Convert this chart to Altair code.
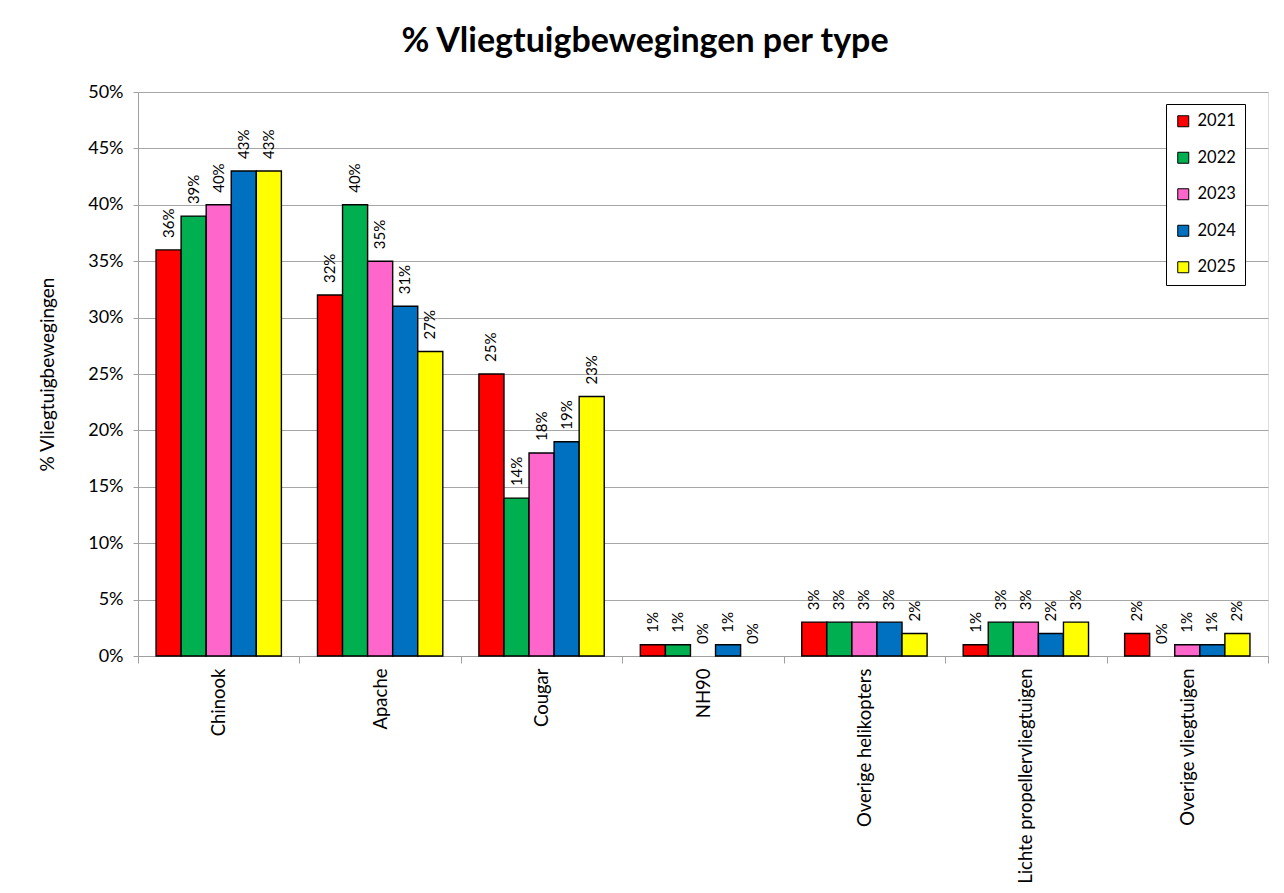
import altair as alt
import pandas as pd

categories = ["Chinook", "Apache", "Cougar", "NH90", "Overige helikopters",
              "Lichte propellervliegtuigen", "Overige vliegtuigen"]
years = ["2021", "2022", "2023", "2024", "2025"]
values = {
    "2021": [36, 32, 25, 1, 3, 1, 2],
    "2022": [39, 40, 14, 1, 3, 3, 0],
    "2023": [40, 35, 18, 0, 3, 3, 1],
    "2024": [43, 31, 19, 1, 3, 2, 1],
    "2025": [43, 27, 23, 0, 2, 3, 2],
}
colors = ["#FF0000", "#00B050", "#FF66CC", "#0070C0", "#FFFF00"]

rows = []
for y in years:
    for c, v in zip(categories, values[y]):
        rows.append({"cat": c, "year": y, "v": v / 100.0, "label": f"{v}%"})
df = pd.DataFrame(rows)

FONT = "Lato"

x = alt.X("cat:N", sort=categories, title=None,
          scale=alt.Scale(paddingInner=0, paddingOuter=0),
          axis=alt.Axis(labelAngle=-90, labelFontSize=18.5, labelFont=FONT,
                        labelColor="#000000", tickBand="extent", tickSize=7,
                        tickColor="#A0A0A0", domainColor="#A0A0A0",
                        labelPadding=5, labelLimit=400))
xo = alt.XOffset("year:N", sort=years,
                 scale=alt.Scale(paddingInner=0, paddingOuter=0.72))

base = alt.Chart(df)

bars = base.transform_filter("datum.v > 0").mark_bar(
    stroke="#000000", strokeWidth=1.4
).encode(
    x=x, xOffset=xo,
    y=alt.Y("v:Q", title="% Vliegtuigbewegingen",
            scale=alt.Scale(domain=[0, 0.5]),
            axis=alt.Axis(format=".0%", values=[i * 0.05 for i in range(11)],
                          labelFontSize=18, labelFont=FONT, labelColor="#000000",
                          titleFont=FONT, titleFontSize=19, titleFontWeight="normal",
                          titleColor="#000000", titlePadding=30,
                          tickColor="#A0A0A0", tickSize=5, domainColor="#A0A0A0",
                          gridColor="#A6A6A6", labelPadding=10)),
    color=alt.Color("year:N", sort=years,
                    scale=alt.Scale(domain=years, range=colors),
                    legend=alt.Legend(title=None, orient="none", legendX=1028, legendY=12,
                                      symbolType="square", symbolSize=121,
                                      symbolStrokeColor="#000000", symbolStrokeWidth=1,
                                      labelFontSize=16.5, labelFont=FONT,
                                      labelColor="#000000",
                                      strokeColor="#000000", fillColor="#FFFFFF",
                                      padding=9, rowPadding=19.5, labelOffset=6)),
)

labels = base.mark_text(
    angle=270, align="left", baseline="middle", dx=12, fontSize=15, font=FONT,
    color="#000000"
).encode(
    x=x, xOffset=xo,
    y=alt.Y("v:Q"),
    text="label:N",
)

chart = alt.layer(bars, labels).properties(
    width=1130, height=564,
    title=alt.TitleParams("% Vliegtuigbewegingen per type", fontSize=34, font=FONT,
                          fontWeight="bold", color="#000000", anchor="middle",
                          frame="group", dx=-58, offset=24),
    autosize=alt.AutoSizeParams(type="none"),
    padding={"left": 130, "top": 84, "right": 8, "bottom": 228},
).configure_view(
    fill="#EEEEEE", stroke=None
).configure(background="#FFFFFF")

chart.save("out.html", embed_options={"renderer": "svg", "actions": False})
